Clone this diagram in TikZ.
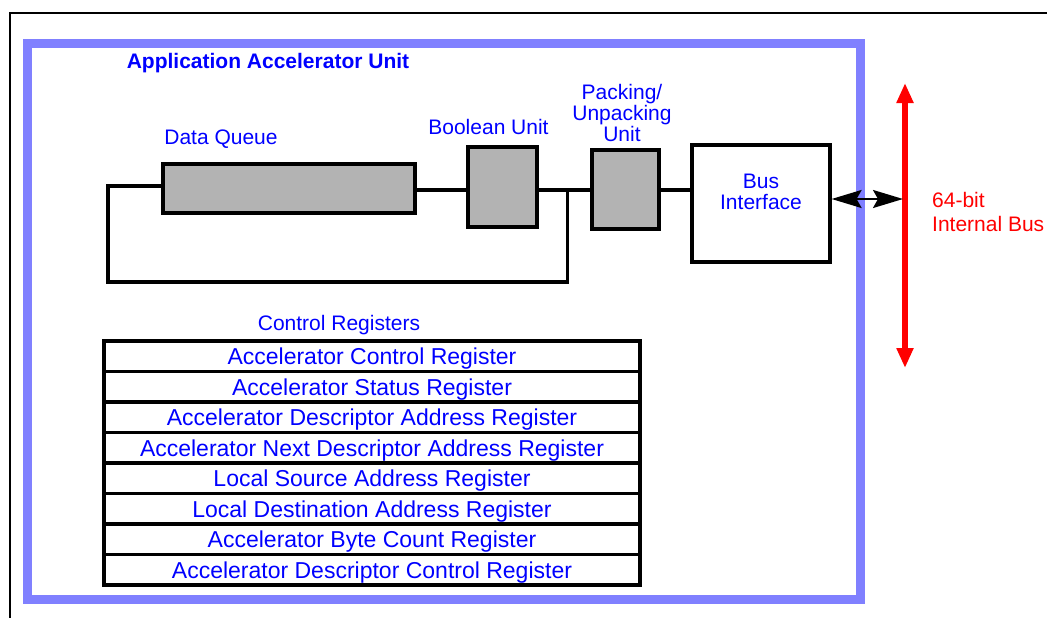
\documentclass[tikz,border=0pt]{standalone}
\usepackage{fontspec}
\setmainfont{Liberation Sans}
\usetikzlibrary{arrows.meta}
\definecolor{frameblue}{HTML}{8080FF}
\definecolor{txtblue}{HTML}{0000FF}
\definecolor{busred}{HTML}{FF0000}
\definecolor{unitgray}{HTML}{B3B3B3}

\begin{document}
\begin{tikzpicture}[x=1pt,y=-1pt,
  lbl/.style={text=txtblue, font=\fontsize{21}{21}\selectfont, inner sep=0pt, anchor=base},
  unit/.style={draw=black, line width=3.2pt, fill=unitgray, inner sep=0pt},
  wire/.style={line width=3.2pt},
  reg/.style={draw=black, line width=3.2pt, minimum width=536pt, minimum height=30.5pt,
              inner sep=0pt, text height=16.5pt, text depth=0pt,
              text=txtblue, font=\fontsize{23}{23}\selectfont},
  bigtip/.tip={Stealth[length=30pt,width=18pt,inset=5pt]},
  bustip/.tip={Triangle[length=20pt,width=16pt]},
]
\useasboundingbox (0,0) rectangle (1047,618);

% page frame
\draw[line width=2pt] (10,618) -- (10,13) -- (1047,13);

% unit boundary
\draw[frameblue, line width=9pt] (27.5,43.5) rectangle (860.5,599.5);

% functional blocks
\node[unit, minimum width=252pt, minimum height=49pt] (dq) at (289,188.5) {};
\node[unit, minimum width=69pt, minimum height=80pt] (bool) at (502.5,187) {};
\node[unit, minimum width=67pt, minimum height=79pt] (pack) at (625.5,189.5) {};
\node[unit, fill=white, minimum width=138pt, minimum height=117pt] (bi) at (761,203.5) {};

% labels (multi-line labels are placed by the baseline of their last line)
\node[lbl, font=\fontsize{21}{21}\selectfont\bfseries] (title) at (268,68.5) {Application Accelerator Unit};
\node[lbl] (dqlbl) at (221,144.5) {Data Queue};
\node[lbl] (boollbl) at (488.5,134) {Boolean Unit};
\node[lbl, align=center] (packlbl) at (622,141) {Packing/\\Unpacking\\Unit};
\node[lbl, align=center] (bilbl) at (761,209.3) {Bus\\Interface};
\node[lbl, text=busred, align=left, anchor=base west] (buslbl) at (932,231.7) {64-bit\\[3.4pt]Internal Bus};
\node[lbl] (crlbl) at (339,330.7) {Control Registers};

% data path with feedback loop
\coordinate (jn) at (567.5,190);
\coordinate (lt) at (108,186);
\coordinate (lb) at (108,282);
\draw[wire] (dq.west |- lt) -- (lt) -- (lb) -| (jn);
\draw[wire] (dq.east |- jn) -- (bool.west |- jn);
\draw[wire] (bool.east |- jn) -- (pack.west |- jn);
\draw[wire] (pack.east |- jn) -- (bi.west |- jn);

% register file
\foreach \name [count=\i] in {
  Accelerator Control Register,
  Accelerator Status Register,
  Accelerator Descriptor Address Register,
  Accelerator Next Descriptor Address Register,
  Local Source Address Register,
  Local Destination Address Register,
  Accelerator Byte Count Register,
  Accelerator Descriptor Control Register}
  \node[reg] (r\i) at (372,{341+30.5*(\i-0.5)}) {\name};

% internal bus
\coordinate (bt) at (905,83);
\coordinate (bb) at (905,368);
\draw[busred, line width=6.5pt, bustip-bustip] (bt) -- (bb);
\coordinate (tap) at (903,199);
\draw[line width=2pt, bigtip-bigtip] (bi.east |- tap) -- (tap);
\end{tikzpicture}
\end{document}
